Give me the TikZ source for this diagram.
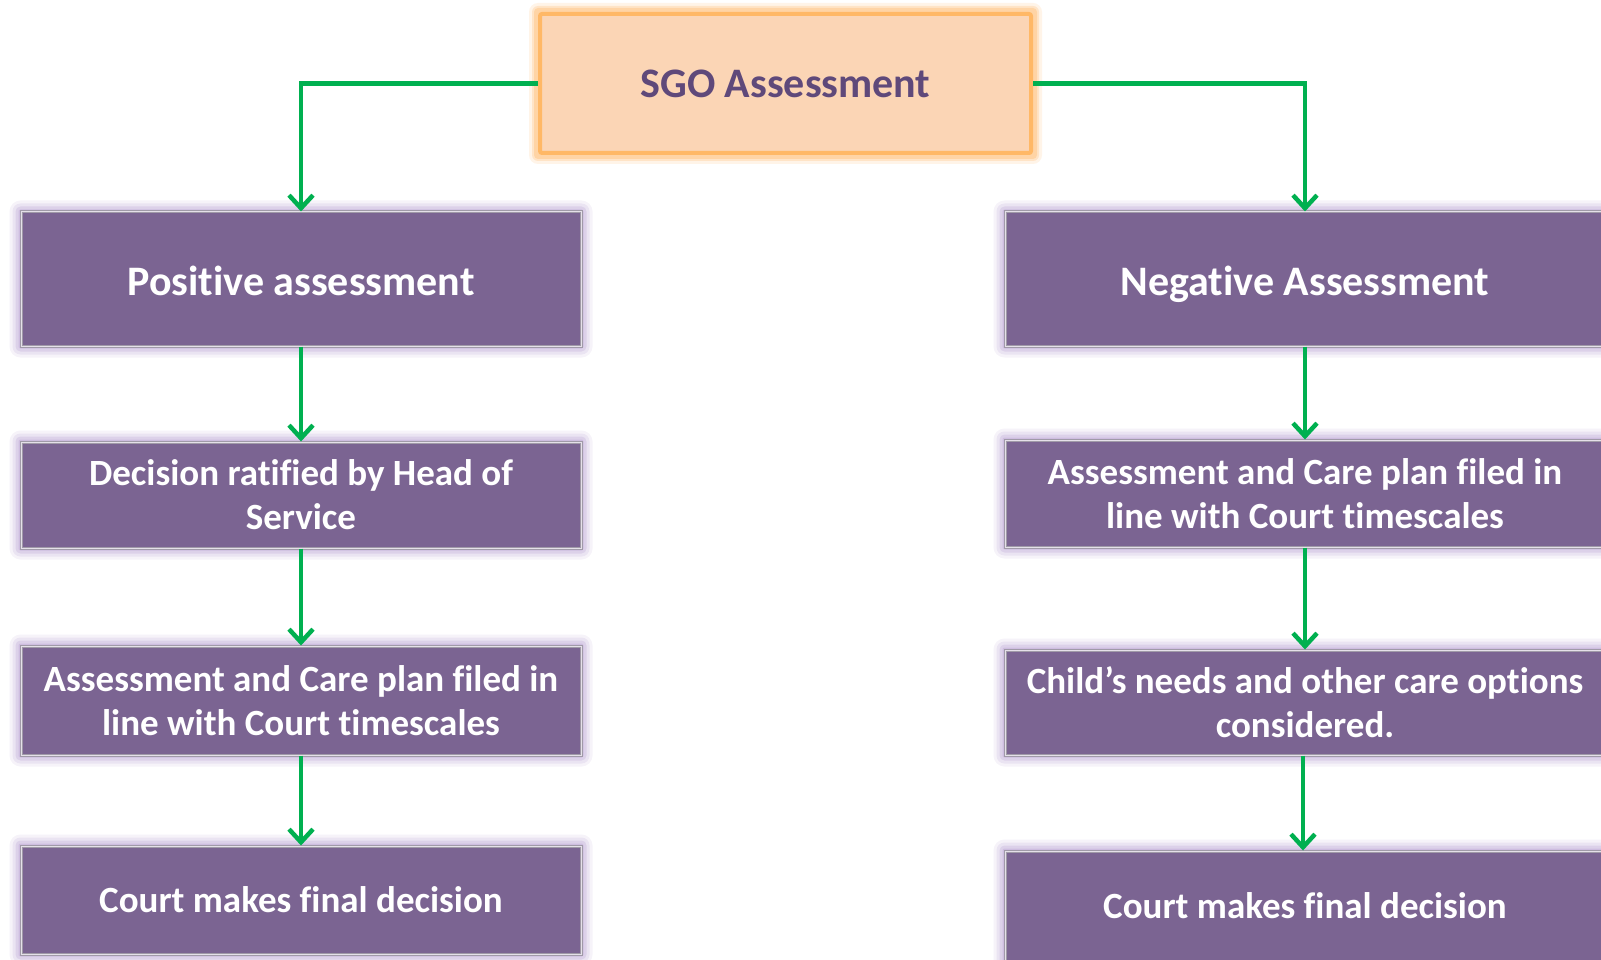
\documentclass[tikz,border=0pt]{standalone}
\usepackage{fontspec}
\setmainfont{Carlito}[Ligatures={NoCommon,NoRare,NoContextual},RawFeature={-liga;-clig;-dlig;-calt}]
\usetikzlibrary{arrows.meta,backgrounds}
\newcommand\nolig{\kern0pt{}}
\definecolor{boxpurple}{HTML}{7B6492}
\definecolor{glowpurple}{HTML}{B9A0D4}
\definecolor{peach}{HTML}{FBD5B5}
\definecolor{orangeedge}{HTML}{FFB866}
\definecolor{titlepurple}{HTML}{5F497A}
\definecolor{arrowgreen}{HTML}{00B050}
\definecolor{edgegray}{HTML}{A09AA8}
\tikzset{
  x=1pt, y=-1pt,
  topbox/.style={draw=orangeedge, line width=4pt, fill=peach, rounded corners=2pt,
    text=titlepurple, font=\fontsize{42}{50}\selectfont\bfseries,
    minimum width=491pt, minimum height=139pt, inner sep=0pt, anchor=center},
  stepbox/.style={draw=edgegray, double=white!80!boxpurple, double distance=1pt, line width=1pt,
    fill=boxpurple, text=white, align=center, inner sep=0pt, anchor=center},
  big/.style={font=\fontsize{42}{50}\selectfont\bfseries, text height=32pt, text depth=0pt},
  small/.style={font=\fontsize{37}{44}\selectfont\bfseries},
  conn/.style={draw=arrowgreen, line width=4.5pt,
    -{Straight Barb[length=13pt,width=24pt,line width=4.5pt]}},
}
\begin{document}
\begin{tikzpicture}
\clip (0,0) rectangle (1601,960);
% nodes
\node[topbox] (sgo) at (785.5,83.5) {SGO Assessment};
\node[stepbox,big,minimum width=560pt,minimum height=134pt] (l1) at (301,279) {Posit\nolig ive assessment};
\node[stepbox,small,minimum width=560pt,minimum height=106pt] (l2) at (301,495) {Decision rat\nolig ified by Head of\\Service};
\node[stepbox,small,minimum width=560pt,minimum height=109pt] (l3) at (301,700.5) {Assessment and Care plan filed in\\line with Court t\nolig imescales};
\node[stepbox,small,minimum width=560pt,minimum height=108pt] (l4) at (301,900) {Court makes final decision};
\node[stepbox,big,minimum width=600pt,minimum height=134pt] (r1) at (1305,279) {Negat\nolig ive Assessment};
\node[stepbox,small,minimum width=600pt,minimum height=107pt] (r2) at (1305,493.5) {Assessment and Care plan filed in\\line with Court t\nolig imescales};
\node[stepbox,small,minimum width=600pt,minimum height=105pt] (r3) at (1305,702.5) {Child’s needs and other care options\\considered.};
\node[stepbox,small,minimum width=600pt,minimum height=110pt] (r4) at (1305,906) {Court makes final decision};
% glows
\begin{scope}[on background layer]
  \fill[white] (0,0) rectangle (1601,960);
  \foreach \n in {l1,l2,l3,l4,r1,r2,r3,r4}{
    \foreach \d/\o in {11/0.12,8/0.18,5/0.28,2/0.4}{
      \fill[glowpurple,opacity=\o,rounded corners=\d pt]
        ([xshift=-\d pt,yshift=\d pt]\n.north west) rectangle ([xshift=\d pt,yshift=-\d pt]\n.south east);
    }
  }
  \foreach \d/\o in {9/0.15,6/0.25,4/0.35}{
    \fill[orangeedge,opacity=\o,rounded corners=\d pt]
      ([xshift=-\d pt,yshift=\d pt]sgo.north west) rectangle ([xshift=\d pt,yshift=-\d pt]sgo.south east);
  }
\end{scope}
% connectors
\draw[conn] (sgo.west) -| (l1.north);
\draw[conn] (sgo.east) -| (r1.north);
\draw[conn] (l1.south) -- (l2.north);
\draw[conn] (l2.south) -- (l3.north);
\draw[conn] (l3.south) -- (l4.north);
\draw[conn] (r1.south) -- (r2.north);
\draw[conn] (r2.south) -- (r3.north);
\draw[conn] ([xshift=-2pt]r3.south) -- ([xshift=-2pt]r4.north);
\end{tikzpicture}
\end{document}
